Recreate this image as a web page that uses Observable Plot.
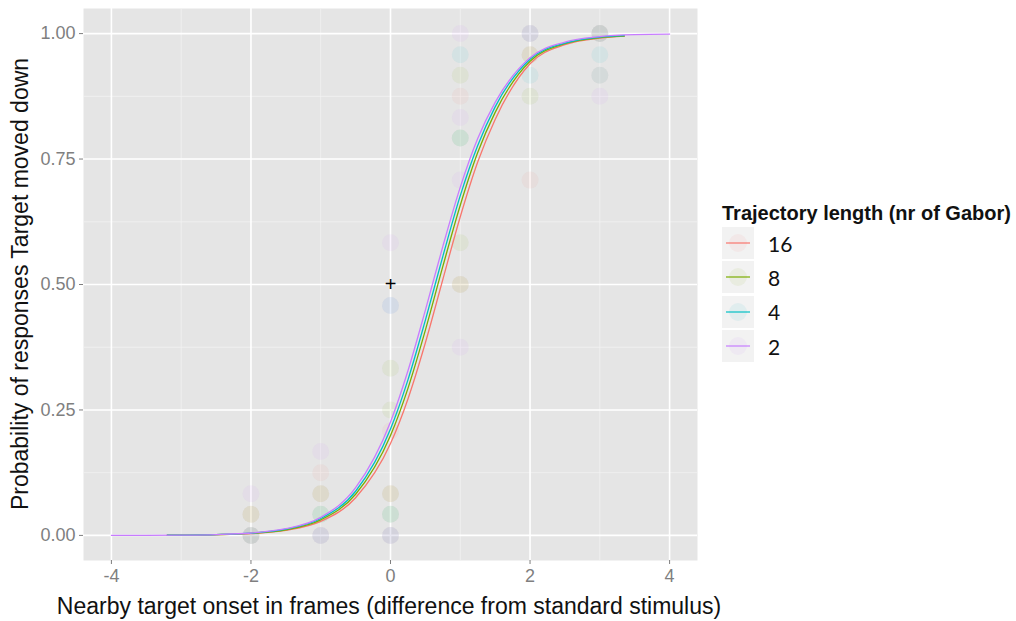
<!DOCTYPE html>
<html>
<head>
<meta charset="utf-8">
<script src="https://cdn.jsdelivr.net/npm/d3@7"></script>
<script src="https://cdn.jsdelivr.net/npm/@observablehq/plot@0.6"></script>
<style>
  html, body { margin: 0; padding: 0; background: #ffffff; }
  #wrap { position: relative; width: 1016px; height: 621px; font-family: "Liberation Sans", Arial, sans-serif; overflow: hidden; }
  #chart { position: absolute; left: 0; top: 0; }
  .axtitle { position: absolute; font-size: 23px; color: #111; white-space: nowrap; line-height: 1; }
  #xtitle { left: 389px; top: 606px; transform: translate(-50%, -50%); }
  #ytitle { left: 20px; top: 284px; transform: translate(-50%, -50%) rotate(-90deg); }
  #legend { position: absolute; left: 722px; top: 200px; }
  #legend .title { font-weight: bold; font-size: 20px; color: #111; margin-bottom: 0px; white-space: nowrap; line-height: 26px; }
  #legend .row { display: flex; align-items: center; height: 34.3px; }
  #legend .key { width: 32px; height: 32px; background: #F2F2F2; margin-right: 14px; }
  #legend .lab { font-family: Lato, "Open Sans", sans-serif; font-size: 21px; color: #111; }
</style>
</head>
<body>
<div id="wrap">
  <div id="chart"></div>
  <div id="xtitle" class="axtitle"></div>
  <div id="ytitle" class="axtitle"></div>
  <div id="legend"></div>
</div>
<script>
// ---- data ----
const seriesNames = ["16", "8", "4", "2"];
const seriesColors = ["#F8766D", "#7CAE00", "#00BFC4", "#C77CFF"];

// fitted curves
const curveX16 = [-3.2,-3,-2.5,-2,-1.5,-1,-0.5,0,0.25,0.5,0.75,1,1.25,1.5,2,2.5,3,3.35];
const curveY16 = [0.0003,0.0005,0.0013,0.0037,0.0102,0.028,0.075,0.183,0.272,0.384,0.510,0.635,0.744,0.829,0.940,0.978,0.991,0.995];
const curveX8 = [-3.2,-3,-2.5,-2,-1.5,-1,-0.5,0,0.25,0.5,0.75,1,1.25,1.5,2,2.5,3,3.35];
const curveY8 = [0.0003,0.0005,0.0015,0.0041,0.0113,0.031,0.082,0.199,0.293,0.409,0.536,0.658,0.763,0.843,0.945,0.980,0.992,0.995];
const curveX4 = [-3.2,-3,-2.5,-2,-1.5,-1,-0.5,0,0.25,0.5,0.75,1,1.25,1.5,2,2.5,3,3.35];
const curveY4 = [0.0004,0.0006,0.0016,0.0044,0.0123,0.0336,0.088,0.212,0.310,0.429,0.556,0.677,0.777,0.854,0.949,0.981,0.993,0.996];
const curveX2 = [-4,-3.5,-3,-2.5,-2,-1.5,-1,-0.5,0,0.25,0.5,0.75,1,1.25,1.5,2,2.5,3,3.5,4];
const curveY2 = [0.0001,0.0002,0.0006,0.0017,0.0048,0.0133,0.036,0.095,0.226,0.328,0.449,0.576,0.694,0.791,0.863,0.952,0.983,0.994,0.998,0.999];

// observed proportions (points)
const pointX16 = [-2,-2,-1,-1,-1,0,0,0,1,1,2,2,2,3,3];
const pointY16 = [0,0.042,0.125,0.083,0,0.208,0.083,0,0.875,0.5,0.708,0.958,1,1,0.917];
const pointX8 = [-2,-2,-1,-1,0,0,0,0,1,1,1,1,2,2,3];
const pointY8 = [0,0.042,0.042,0.083,0.333,0.25,0.083,0.042,0.917,0.583,0.5,0.792,0.875,0.958,1];
const pointX4 = [-2,-1,-1,0,0,0,1,1,2,2,3,3,3];
const pointY4 = [0,0,0.042,0.458,0.042,0,0.958,0.792,0.917,1,0.958,1,0.917];
const pointX2 = [-2,-2,-1,-1,0,0,0,1,1,1,1,2,3,3];
const pointY2 = [0,0.083,0.167,0,0.583,0.458,0,1,0.833,0.708,0.375,1,0.875,1];

const crossX = [0];
const crossY = [0.5];

const xTicks = [-4,-2,0,2,4];
const xMinor = [-3,-1,1,3];
const yTicks = [0,0.25,0.5,0.75,1];
const yMinor = [0.125,0.375,0.625,0.875];

const xTitle = "Nearby target onset in frames (difference from standard stimulus)";
const yTitle = "Probability of responses Target moved down";
const legendTitle = "Trajectory length (nr of Gabor)";

// ---- build tables ----
const curveSets = [[curveX16,curveY16],[curveX8,curveY8],[curveX4,curveY4],[curveX2,curveY2]];
const pointSets = [[pointX16,pointY16],[pointX8,pointY8],[pointX4,pointY4],[pointX2,pointY2]];
const curves = curveSets.flatMap(([xs, ys], i) => xs.map((x, j) => ({x, y: ys[j], s: seriesNames[i]})));
const points = pointSets.flatMap(([xs, ys], i) => xs.map((x, j) => ({x, y: ys[j], s: seriesNames[i]})));
const cross = crossX.map((x, i) => ({x, y: crossY[i]}));

const colorOf = Object.fromEntries(seriesNames.map((n, i) => [n, seriesColors[i]]));

const chart = Plot.plot({
  width: 700,
  height: 621,
  marginLeft: 83,
  marginRight: 3,
  marginTop: 8,
  marginBottom: 61,
  style: {fontFamily: "Liberation Sans, Arial, sans-serif", fontSize: "18px", background: "#ffffff"},
  x: {domain: [-4.4, 4.4]},
  y: {domain: [-0.05, 1.05]},
  marks: [
    Plot.frame({fill: "#E5E5E5", stroke: null}),
    Plot.gridX(xMinor, {stroke: "#F2F2F2", strokeOpacity: 1, strokeWidth: 0.8}),
    Plot.gridY(yMinor, {stroke: "#F2F2F2", strokeOpacity: 1, strokeWidth: 0.8}),
    Plot.gridX(xTicks, {stroke: "#ffffff", strokeOpacity: 1, strokeWidth: 1.6}),
    Plot.gridY(yTicks, {stroke: "#ffffff", strokeOpacity: 1, strokeWidth: 1.6}),
    Plot.dot(points, {x: "x", y: "y", r: 8.5, fill: d => colorOf[d.s], fillOpacity: 0.075, stroke: null}),
    ...seriesNames.map(n => Plot.line(curves.filter(d => d.s === n), {x: "x", y: "y", stroke: colorOf[n], strokeWidth: 1.3, curve: "monotone-x"})),
    Plot.text(cross, {x: "x", y: "y", text: () => "+", fontSize: 20, fill: "#000"}),
    Plot.axisX(xTicks, {tickSize: 4, stroke: "#7F7F7F", color: "#7F7F7F", fontSize: 18, tickPadding: 5, tickFormat: d => String(d), label: null}),
    Plot.axisY(yTicks, {tickSize: 4, stroke: "#7F7F7F", color: "#7F7F7F", fontSize: 18, tickPadding: 4, tickFormat: d3.format(".2f"), label: null})
  ]
});
document.getElementById("chart").appendChild(chart);

document.getElementById("xtitle").textContent = xTitle;
document.getElementById("ytitle").textContent = yTitle;

// ---- legend ----
const legend = document.getElementById("legend");
const t = document.createElement("div");
t.className = "title";
t.textContent = legendTitle;
legend.appendChild(t);
seriesNames.forEach((n, i) => {
  const row = document.createElement("div");
  row.className = "row";
  const key = document.createElement("div");
  key.className = "key";
  key.innerHTML = `<svg width="32" height="32"><circle cx="16" cy="16" r="9" fill="${seriesColors[i]}" fill-opacity="0.07"></circle><line x1="4" x2="28" y1="16" y2="16" stroke="${seriesColors[i]}" stroke-width="1.2"></line></svg>`;
  const lab = document.createElement("div");
  lab.className = "lab";
  lab.textContent = n;
  row.appendChild(key);
  row.appendChild(lab);
  legend.appendChild(row);
});
</script>
</body>
</html>
